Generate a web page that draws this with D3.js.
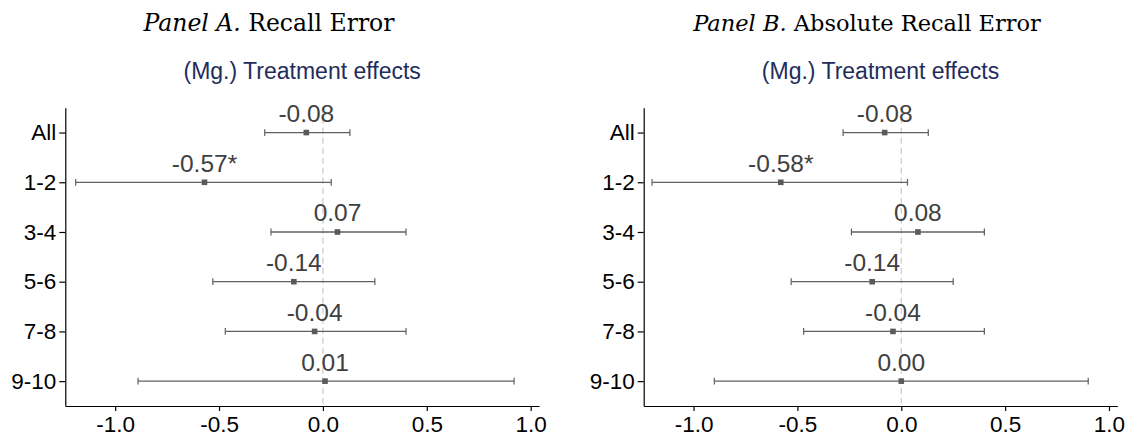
<!DOCTYPE html>
<html>
<head>
<meta charset="utf-8">
<script src="https://cdn.jsdelivr.net/npm/d3@7"></script>
<style>
  html, body { margin: 0; padding: 0; background: #fff; }
  .tick text { font-family: "Liberation Sans", Arial, sans-serif; font-size: 22.5px; fill: #000; }
  .domain, .tick line { stroke: #000; stroke-width: 1.2; }
</style>
</head>
<body>
<div id="chart"></div>
<script>
(function() {
  "use strict";

  var categories = ['All', '1-2', '3-4', '5-6', '7-8', '9-10'];

  // Panel A: recall error
  var recallEst = [-0.08, -0.57, 0.07, -0.14, -0.04, 0.01];
  var recallLo = [-0.28, -1.19, -0.25, -0.53, -0.47, -0.89];
  var recallHi = [0.13, 0.04, 0.40, 0.25, 0.40, 0.92];
  var recallStars = ['', '*', '', '', '', ''];

  // Panel B: absolute recall error
  var absEst = [-0.08, -0.58, 0.08, -0.14, -0.04, 0.00];
  var absLo = [-0.28, -1.20, -0.24, -0.53, -0.47, -0.90];
  var absHi = [0.13, 0.03, 0.40, 0.25, 0.40, 0.90];
  var absStars = ['', '*', '', '', '', ''];

  var xTicks = [-1.0, -0.5, 0.0, 0.5, 1.0];
  var xDomain = [-1.24, 1.04];

  var WIDTH = 1130, HEIGHT = 436;
  var SANS = '"Liberation Sans", Arial, sans-serif';
  var SERIF = '"DejaVu Serif", "Liberation Serif", serif';

  // plain hyphen instead of the unicode minus d3 uses by default
  var locale = d3.formatLocale({
    decimal: '.', thousands: ',', grouping: [3], currency: ['$', ''], minus: '-'
  });
  var fmt1 = locale.format('.1f');
  var fmt2 = locale.format('.2f');

  var svg = d3.select('#chart')
      .append('svg')
      .attr('width', WIDTH)
      .attr('height', HEIGHT);

  drawPanel(svg, {
    left: 65.3, right: 539, top: 107.7, bottom: 406,
    titleX: 269, titleSize: 23.5, italic: 'Panel A.', title: ' Recall Error',
    est: recallEst, lo: recallLo, hi: recallHi, stars: recallStars
  });

  drawPanel(svg, {
    left: 643.7, right: 1117.3, top: 107.7, bottom: 406,
    titleX: 867, titleSize: 22.5, italic: 'Panel B.', title: ' Absolute Recall Error',
    est: absEst, lo: absLo, hi: absHi, stars: absStars
  });

  /**
   * Draws one coefficient plot panel (titles, axes, zero line, CIs, labels).
   */
  function drawPanel(svg, p) {
    var x = d3.scaleLinear().domain(xDomain).range([p.left, p.right]);
    var y = d3.scalePoint().domain(categories).range([p.top, p.bottom]).padding(0.5);

    // Panel title, LaTeX style
    var title = svg.append('text')
        .attr('x', p.titleX)
        .attr('y', 31)
        .attr('text-anchor', 'middle')
        .style('font-family', SERIF)
        .style('font-size', p.titleSize + 'px')
        .style('fill', '#000');
    title.append('tspan').style('font-style', 'italic').text(p.italic);
    title.append('tspan').text(p.title);

    // Subtitle centred on the plot area
    svg.append('text')
        .attr('x', (p.left + p.right) / 2)
        .attr('y', 79)
        .attr('text-anchor', 'middle')
        .style('font-family', SANS)
        .style('font-size', '23px')
        .style('fill', '#1f2d5c')
        .text('(Mg.) Treatment effects');

    // Zero reference line
    svg.append('line')
        .attr('x1', x(0)).attr('x2', x(0))
        .attr('y1', p.top).attr('y2', p.bottom)
        .attr('stroke', '#c8c8c8')
        .attr('stroke-width', 1.2)
        .attr('stroke-dasharray', '6,4');

    svg.append('g')
        .attr('transform', 'translate(0,' + p.bottom + ')')
        .call(d3.axisBottom(x).tickValues(xTicks).tickFormat(fmt1)
          .tickSize(5).tickPadding(5).tickSizeOuter(0));

    svg.append('g')
        .attr('transform', 'translate(' + p.left + ',0)')
        .call(d3.axisLeft(y).tickSize(6).tickPadding(3).tickSizeOuter(0));

    var rows = categories.map(function(c, i) {
      return { cat: c, est: p.est[i], lo: p.lo[i], hi: p.hi[i], star: p.stars[i] };
    });

    var g = svg.append('g').selectAll('g')
        .data(rows)
        .join('g')
        .attr('transform', function(d) { return 'translate(0,' + y(d.cat) + ')'; });

    // Confidence interval and caps
    g.append('line')
        .attr('x1', function(d) { return x(d.lo); })
        .attr('x2', function(d) { return x(d.hi); })
        .attr('stroke', '#606060')
        .attr('stroke-width', 1.3);
    g.append('line')
        .attr('x1', function(d) { return x(d.lo); })
        .attr('x2', function(d) { return x(d.lo); })
        .attr('y1', -3.4).attr('y2', 3.4)
        .attr('stroke', '#606060')
        .attr('stroke-width', 1.2);
    g.append('line')
        .attr('x1', function(d) { return x(d.hi); })
        .attr('x2', function(d) { return x(d.hi); })
        .attr('y1', -3.4).attr('y2', 3.4)
        .attr('stroke', '#606060')
        .attr('stroke-width', 1.2);

    // Point estimate marker
    g.append('rect')
        .attr('x', function(d) { return x(d.est) - 2.8; })
        .attr('y', -2.8)
        .attr('width', 5.6)
        .attr('height', 5.6)
        .attr('fill', '#5a5a5a');

    // Estimate label
    g.append('text')
        .attr('x', function(d) { return x(d.est); })
        .attr('y', -10.5)
        .attr('text-anchor', 'middle')
        .style('font-family', SANS)
        .style('font-size', '24.5px')
        .style('fill', '#404040')
        .text(function(d) { return fmt2(d.est) + d.star; });
  }
})();
</script>
</body>
</html>
